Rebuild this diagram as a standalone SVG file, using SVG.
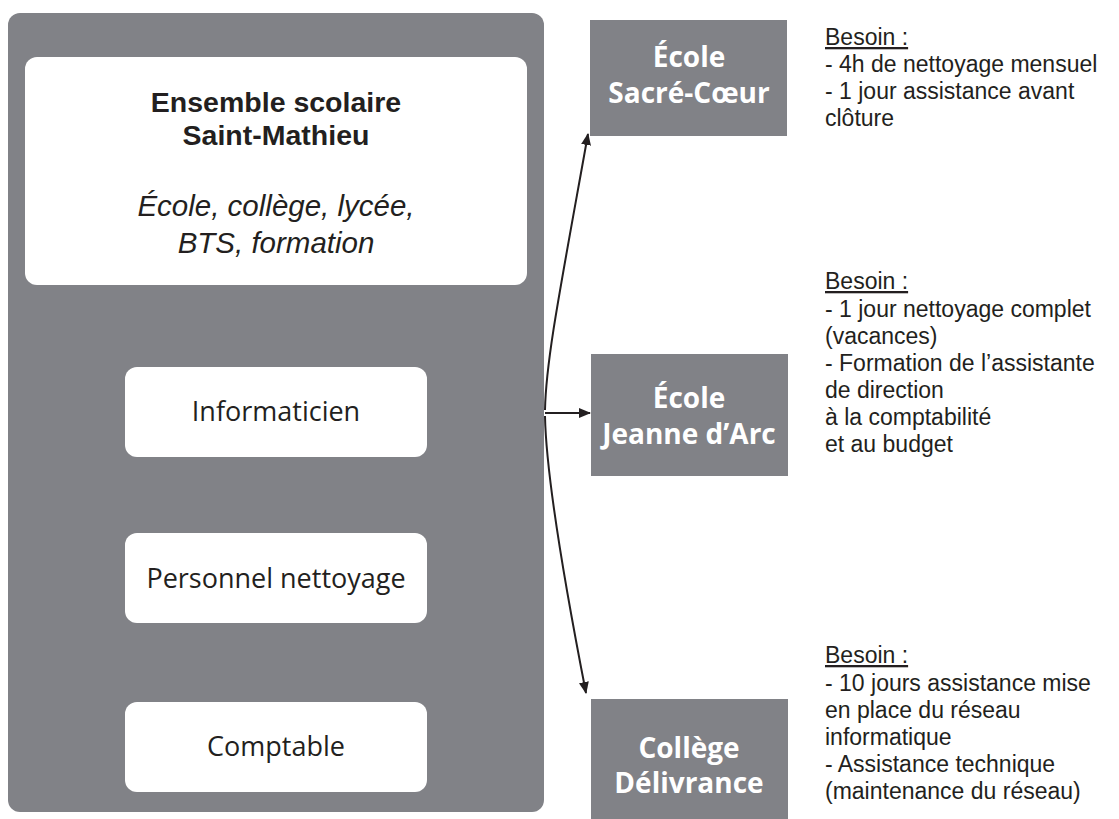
<svg xmlns="http://www.w3.org/2000/svg" width="1119" height="819" viewBox="0 0 1119 819">
<style>
.gray{fill:#818287}
.white{fill:#ffffff}
.t{font-family:"Open Sans","Liberation Sans",sans-serif;fill:#231f20}
.lt{font-size:27px;text-anchor:middle}
.bt{font-family:"Liberation Sans",Arial,sans-serif;font-size:28.5px;font-weight:bold;text-anchor:middle}
.it{font-family:"Liberation Sans",Arial,sans-serif;font-size:29.5px;font-style:italic;text-anchor:middle}
.wt{font-family:"Open Sans","Liberation Sans",sans-serif;fill:#ffffff;font-size:28px;font-weight:bold;text-anchor:middle}
.nt{font-family:"Liberation Sans",Arial,sans-serif;font-size:23px;fill:#231f20}
.conn{fill:none;stroke:#231f20;stroke-width:2}
</style>
<defs>
<marker id="ah" viewBox="0 0 12 10" refX="11" refY="5" markerWidth="12" markerHeight="10" markerUnits="userSpaceOnUse" orient="auto">
<path d="M0,0 L12,5 L0,10 Z" fill="#231f20"/>
</marker>
</defs>
<g id="ensemble">
<rect class="gray" x="8" y="13" width="536" height="799" rx="12"/>
<rect class="white" x="25" y="57" width="502" height="228" rx="12"/>
<text class="t bt" x="276" y="112">Ensemble scolaire</text>
<text class="t bt" x="276" y="145">Saint-Mathieu</text>
<text class="t it" x="276" y="216">École, collège, lycée,</text>
<text class="t it" x="276" y="253">BTS, formation</text>
</g>
<g id="informaticien">
<rect class="white" x="125" y="367" width="302" height="90" rx="12"/>
<text class="t lt" x="276" y="421">Informaticien</text>
</g>
<g id="personnel">
<rect class="white" x="125" y="533" width="302" height="90" rx="12"/>
<text class="t lt" x="276" y="588">Personnel nettoyage</text>
</g>
<g id="comptable">
<rect class="white" x="125" y="702" width="302" height="90" rx="12"/>
<text class="t lt" x="276" y="756">Comptable</text>
</g>
<g id="sacre-coeur">
<rect class="gray" x="590" y="20" width="197" height="116"/>
<text class="wt" x="689" y="67">École</text>
<text class="wt" x="689" y="103">Sacré-Cœur</text>
</g>
<g id="jeanne-darc">
<rect class="gray" x="591" y="354" width="197" height="122"/>
<text class="wt" x="689" y="408">École</text>
<text class="wt" x="689" y="444">Jeanne d’Arc</text>
</g>
<g id="delivrance">
<rect class="gray" x="591" y="699" width="197" height="130"/>
<text class="wt" x="689" y="758">Collège</text>
<text class="wt" x="689" y="793">Délivrance</text>
</g>
<g id="besoin-1" class="nt">
<text x="825" y="45" text-decoration="underline">Besoin :</text>
<text x="825" y="72">- 4h de nettoyage mensuel</text>
<text x="825" y="99">- 1 jour assistance avant</text>
<text x="825" y="126">clôture</text>
</g>
<g id="besoin-2" class="nt">
<text x="825" y="289" text-decoration="underline">Besoin :</text>
<text x="825" y="317">- 1 jour nettoyage complet</text>
<text x="825" y="344">(vacances)</text>
<text x="825" y="371">- Formation de l’assistante</text>
<text x="825" y="398">de direction</text>
<text x="825" y="425">à la comptabilité</text>
<text x="825" y="452"> et au budget</text>
</g>
<g id="besoin-3" class="nt">
<text x="825" y="663" text-decoration="underline">Besoin :</text>
<text x="825" y="691">- 10 jours assistance mise</text>
<text x="825" y="718">en place du réseau</text>
<text x="825" y="745">informatique</text>
<text x="825" y="772">- Assistance technique</text>
<text x="825" y="799">(maintenance du réseau)</text>
</g>
<g id="connectors">
<path class="conn" d="M545,410 C546,360 560,290 588,134" marker-end="url(#ah)"/>
<path class="conn" d="M545,413 L590,413" marker-end="url(#ah)"/>
<path class="conn" d="M545,416 C546,470 560,560 586,693" marker-end="url(#ah)"/>
</g>
</svg>
